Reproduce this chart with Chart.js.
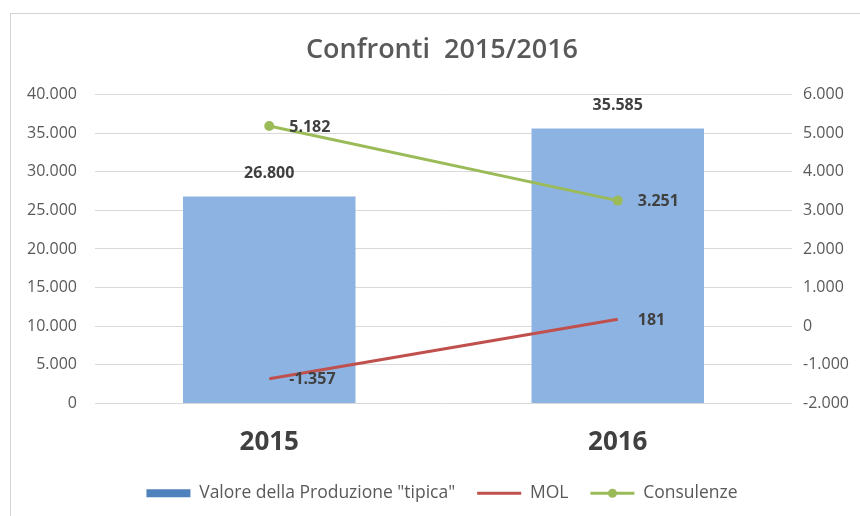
<!DOCTYPE html>
<html>
<head>
<meta charset="utf-8">
<script src="https://cdn.jsdelivr.net/npm/chart.js@4.4.1/dist/chart.umd.min.js"></script>
<style>
  html, body { margin: 0; padding: 0; background: #fff; }
  #wrap { position: relative; width: 860px; height: 516px; overflow: hidden; }
  #frame { position: absolute; left: 10px; top: 13px; right: 0; bottom: 0; border-left: 1px solid #d4d4d4; border-top: 1px solid #d4d4d4; pointer-events: none; }
</style>
</head>
<body>
<div id="wrap">
  <canvas id="chart" width="860" height="516"></canvas>
  <div id="frame"></div>
</div>
<script>
// dati
const anni = ['2015', '2016'];
const valoreProduzione = [26800, 35585];
const mol = [-1357, 181];
const consulenze = [5182, 3251];

const FONT = '"Open Sans", "DejaVu Sans", sans-serif';

// 5000 -> "5.000"
const formatta = (v) => {
  const s = String(Math.abs(v)).replace(/\B(?=(\d{3})+(?!\d))/g, '.');
  return v < 0 ? `-${s}` : s;
};

/** etichette dei valori su barre e linee */
const etichette = {
  id: 'etichette',
  afterDatasetsDraw(chart) {
    const { ctx } = chart;
    ctx.save();
    ctx.font = `bold 16px ${FONT}`;
    ctx.fillStyle = '#404040';
    ctx.textBaseline = 'middle';
    chart.data.datasets.forEach((ds, i) => {
      chart.getDatasetMeta(i).data.forEach((el, j) => {
        const testo = formatta(ds.data[j]);
        if (ds.type === 'bar') {
          ctx.textAlign = 'center';
          ctx.fillText(testo, el.x, el.y - 23);
        } else {
          ctx.textAlign = 'left';
          ctx.fillText(testo, el.x + 20, el.y + 1);
        }
      });
    });
    ctx.restore();
  },
  // pallino sulla linea di Consulenze nella legenda
  afterDraw(chart) {
    const boxes = chart.legend.legendHitBoxes;
    if (!boxes || !boxes[2]) return;
    const { ctx } = chart;
    ctx.save();
    ctx.fillStyle = '#9BBB59';
    ctx.beginPath();
    ctx.arc(boxes[2].left + 22, boxes[2].top + 8.75, 4.5, 0, Math.PI * 2);
    ctx.fill();
    ctx.restore();
  },
};

const dataConfronti = {
  labels: anni,
  datasets: [
    {
      type: 'bar',
      label: 'Valore della Produzione "tipica"',
      data: valoreProduzione,
      backgroundColor: '#8DB3E2',
      borderWidth: 0,
      yAxisID: 'y',
      categoryPercentage: 1,
      barPercentage: 0.495,
      order: 3,
    },
    {
      type: 'line',
      label: 'MOL',
      data: mol,
      borderColor: '#C0504D',
      backgroundColor: '#C0504D',
      borderWidth: 3,
      pointRadius: 0,
      yAxisID: 'y1',
      order: 2,
    },
    {
      type: 'line',
      label: 'Consulenze',
      data: consulenze,
      borderColor: '#9BBB59',
      backgroundColor: '#9BBB59',
      borderWidth: 3,
      pointRadius: 5,
      pointBorderWidth: 0,
      yAxisID: 'y1',
      order: 1,
    },
  ],
};

new Chart(document.getElementById('chart'), {
  type: 'bar',
  data: dataConfronti,
  plugins: [etichette],
  options: {
    responsive: false,
    animation: false,
    layout: { padding: { left: 24, top: 13, right: 0, bottom: 4 } },
    plugins: {
      tooltip: { enabled: false },
      title: {
        display: true,
        text: 'Confronti  2015/2016',
        color: '#595959',
        font: { family: FONT, size: 27, weight: '600' },
        padding: { top: 21, bottom: 28 },
      },
      legend: {
        position: 'bottom',
        labels: {
          color: '#595959',
          font: { family: FONT, size: 17.5 },
          usePointStyle: true,
          pointStyleWidth: 44,
          boxHeight: 8,
          padding: 22,
          sort: (a, b) => a.datasetIndex - b.datasetIndex,
          generateLabels: (chart) => {
            const items = Chart.defaults.plugins.legend.labels.generateLabels(chart);
            items.forEach((it) => {
              const ds = chart.data.datasets[it.datasetIndex];
              if (ds.type === 'bar') {
                it.pointStyle = 'rect';
                it.fillStyle = '#4F81BD';
                it.strokeStyle = '#4F81BD';
                it.lineWidth = 0;
              } else {
                it.pointStyle = 'line';
                it.strokeStyle = ds.borderColor;
                it.lineWidth = 3;
              }
            });
            return items;
          },
        },
      },
    },
    scales: {
      x: {
        grid: { display: false, drawTicks: false },
        border: { display: false },
        ticks: { color: '#404040', font: { family: FONT, size: 26, weight: 'bold' }, padding: 23 },
        afterFit: (s) => { s.height = 59; },
      },
      y: {
        position: 'left',
        min: 0,
        max: 40000,
        ticks: { stepSize: 5000, callback: (v) => formatta(v), color: '#595959', font: { family: FONT, size: 16 }, padding: 18 },
        grid: { color: '#d9d9d9', drawTicks: false },
        border: { display: false },
        afterFit: (s) => { s.width = 71; },
      },
      y1: {
        position: 'right',
        min: -2000,
        max: 6000,
        ticks: { stepSize: 1000, callback: (v) => formatta(v), color: '#595959', font: { family: FONT, size: 16 }, padding: 11 },
        grid: { display: false, drawTicks: false },
        border: { display: false },
        afterFit: (s) => { s.width = 68; },
      },
    },
  },
});
</script>
</body>
</html>
